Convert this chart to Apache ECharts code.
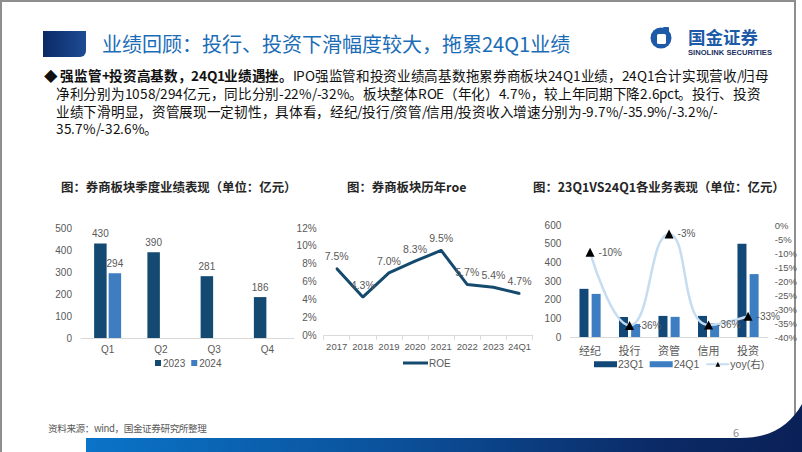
<!DOCTYPE html>
<html>
<head>
<meta charset="utf-8">
<script src="https://cdn.jsdelivr.net/npm/echarts@6/dist/echarts.min.js"></script>
<style>
@font-face{font-family:'CJKT';src:local('Noto Sans CJK SC'),local('Noto Sans CJK SC Regular'),local('NotoSansCJKsc-Regular');ascent-override:92%;descent-override:22%;line-gap-override:0%;font-weight:400;}
@font-face{font-family:'CJKT';src:local('Noto Sans CJK SC Bold'),local('NotoSansCJKsc-Bold');ascent-override:92%;descent-override:22%;line-gap-override:0%;font-weight:700;}
html,body{margin:0;padding:0;background:#fff;}
body{width:802px;height:452px;position:relative;overflow:hidden;font-family:"Noto Sans CJK SC","Noto Sans",sans-serif;}
.abs{position:absolute;white-space:nowrap;}
#frame{position:absolute;left:0;top:0;width:796px;height:460px;border-left:2px solid #8e8e8e;border-top:2px solid #8e8e8e;border-right:2px solid #8e8e8e;box-sizing:border-box;}
#sq{position:absolute;left:43px;top:31px;width:43px;height:26px;background:linear-gradient(90deg,#0b2a66,#1d4c94);border-bottom-right-radius:6px;}
#title{left:102px;top:30px;font-size:20px;line-height:28px;color:#1b6cb6;}
#bullet{left:44px;top:68px;font-size:13.6px;line-height:17.8px;color:#111;letter-spacing:-0.3px;font-family:'CJKT',"Noto Sans CJK SC",sans-serif;}
.ct{font-size:12.4px;font-weight:bold;color:#262626;line-height:16px;top:179px;}
#src{left:48px;top:421px;font-size:9.6px;color:#595959;letter-spacing:-0.4px;}
#pg{left:733px;top:424px;font-size:11px;color:#8c8c8c;}
#chart{position:absolute;left:0;top:0;width:802px;height:452px;}
</style>
</head>
<body>
<div id="frame"></div>
<div id="sq"></div>
<div class="abs" id="title">业绩回顾：投行、投资下滑幅度较大，拖累24Q1业绩</div>
<svg class="abs" style="left:640px;top:20px" width="160" height="45" viewBox="640 20 160 45">
  <circle cx="661" cy="38" r="10.5" fill="#1d5aa7"/>
  <rect x="657" y="34" width="9" height="10" rx="1.5" fill="#fff"/>
  <rect x="663" y="27" width="6" height="6" rx="1" fill="#1d5aa7"/>
  <text x="688" y="43.5" font-family="Noto Sans CJK SC" font-weight="bold" font-size="17.5" fill="#1d5aa7">国金证券</text>
  <text x="688" y="55" font-family="Liberation Sans" font-weight="bold" font-size="7.6" fill="#1a2f62">SINOLINK SECURITIES</text>
</svg>
<div class="abs" id="bullet">
<div>◆ <b>强监管+投资高基数，24Q1业绩遇挫。</b>IPO强监管和投资业绩高基数拖累券商板块24Q1业绩，24Q1合计实现营收/归母</div>
<div style="padding-left:12px">净利分别为1058/294亿元，同比分别-22%/-32%。板块整体ROE（年化）4.7%，较上年同期下降2.6pct。投行、投资</div>
<div style="padding-left:12px">业绩下滑明显，资管展现一定韧性，具体看，经纪/投行/资管/信用/投资收入增速分别为-9.7%/-35.9%/-3.2%/-</div>
<div style="padding-left:12px">35.7%/-32.6%。</div>
</div>
<div class="abs ct" style="left:61px">图：券商板块季度业绩表现（单位：亿元）</div>
<div class="abs ct" style="left:347px">图：券商板块历年roe</div>
<div class="abs ct" style="left:533px">图：23Q1VS24Q1各业务表现（单位：亿元）</div>
<div class="abs" id="src">资料来源：wind，国金证券研究所整理</div>
<div class="abs" id="pg">6</div>
<svg class="abs" style="left:0;top:0" width="802" height="452">
  <defs>
    <linearGradient id="bg" x1="86" y1="0" x2="802" y2="0" gradientUnits="userSpaceOnUse">
      <stop offset="0" stop-color="#0a74c8"/>
      <stop offset="0.45" stop-color="#0b4f98"/>
      <stop offset="0.8" stop-color="#0b2a66"/>
      <stop offset="1" stop-color="#0a2157"/>
    </linearGradient>
  </defs>
  <path d="M86 438 L740 438 C772 438 790 425 802 404 L802 452 L86 452 Z" fill="url(#bg)"/>
</svg>
<div id="chart"></div>
<script>
// ---- data ----
const quarterCats = ['Q1', 'Q2', 'Q3', 'Q4'];
const profit2023 = [430, 390, 281, 186];
const profit2024 = [294, null, null, null];
const profitTicks = [0, 100, 200, 300, 400, 500];

const roeYears = ['2017', '2018', '2019', '2020', '2021', '2022', '2023', '24Q1'];
const roeValues = [7.5, 4.3, 7.0, 8.3, 9.5, 5.7, 5.4, 4.7];
const roeTicks = ['0%', '2%', '4%', '6%', '8%', '10%', '12%'];

const bizCats = ['经纪', '投行', '资管', '信用', '投资'];
const biz23Q1 = [258, 107, 113, 113, 500];
const biz24Q1 = [231, 70, 108, 74, 337];
const bizYoy = [-9.7, -35.9, -3.2, -35.7, -32.6];
const bizLeftTicks = [0, 100, 200, 300, 400, 500, 600];
const bizRightTicks = ['0%', '-5%', '-10%', '-15%', '-20%', '-25%', '-30%', '-35%', '-40%'];

// ---- styles ----
const FF = 'Liberation Sans, Noto Sans CJK SC, sans-serif';
const GRAY = '#595959';
const AXC = '#d9d9d9';
const lab = (extra) => Object.assign({fontSize: 10, color: GRAY, fontFamily: FF}, extra || {});

const chart = echarts.init(document.getElementById('chart'), null, {renderer: 'svg'});
chart.setOption({
  animation: false,
  textStyle: {fontFamily: FF},
  grid: [
    {left: 81, top: 228, width: 213, height: 110},
    {left: 323.6, top: 228, width: 209, height: 107.7},
    {left: 570.3, top: 225, width: 197.5, height: 112}
  ],
  legend: [
    {data: [{name: '2023', icon: 'rect'}, {name: '2024', icon: 'rect'}], left: 150, top: 353,
     itemWidth: 6, itemHeight: 6, itemGap: 6, textStyle: lab({padding: [0, 0, 0, -3]})},
    {data: [{name: 'ROE', icon: 'rect'}], left: 398, top: 353, itemWidth: 25, itemHeight: 3,
     textStyle: lab({padding: [0, 0, 0, -4]})},
    {data: [{name: '23Q1', icon: 'rect'}, {name: '24Q1', icon: 'rect'}, {name: 'yoy(右)'}],
     left: 589, top: 354, itemWidth: 23, itemHeight: 6, itemGap: 6,
     textStyle: lab({fontSize: 10.5, padding: [0, 0, 0, -4]})}
  ],
  xAxis: [
    {gridIndex: 0, type: 'category', data: quarterCats,
     axisLine: {lineStyle: {color: AXC}}, axisTick: {show: false},
     axisLabel: lab({margin: 6, interval: 0})},
    {gridIndex: 1, type: 'category', data: roeYears,
     axisLine: {lineStyle: {color: AXC}}, axisTick: {show: true, length: 4, lineStyle: {color: AXC}},
     axisLabel: lab({margin: 6, interval: 0, fontSize: 9.5})},
    {gridIndex: 2, type: 'category', data: bizCats,
     axisLine: {lineStyle: {color: AXC}}, axisTick: {show: false},
     axisLabel: lab({fontSize: 11, margin: 8, interval: 0})}
  ],
  yAxis: [
    {gridIndex: 0, type: 'value', min: profitTicks[0], max: profitTicks[profitTicks.length - 1], interval: 100,
     axisLine: {show: false}, axisTick: {show: false}, splitLine: {show: false},
     axisLabel: lab({margin: 9})},
    {gridIndex: 1, type: 'value', min: 0, max: 12, interval: 2,
     axisLine: {show: false}, axisTick: {show: false}, splitLine: {show: false},
     axisLabel: lab({margin: 7, formatter: (v) => roeTicks[Math.round(v / 2)]})},
    {gridIndex: 2, type: 'value', min: bizLeftTicks[0], max: bizLeftTicks[bizLeftTicks.length - 1], interval: 100,
     axisLine: {show: false}, axisTick: {show: false}, splitLine: {show: false},
     axisLabel: lab({margin: 9})},
    {gridIndex: 2, type: 'value', position: 'right', min: -40, max: 0, interval: 5,
     axisLine: {show: false}, axisTick: {show: false}, splitLine: {show: false},
     axisLabel: lab({margin: 7, fontSize: 9.5, lineHeight: 11, showMinLabel: true, showMaxLabel: true,
       formatter: (v) => bizRightTicks[Math.round(-v / 5)]})}
  ],
  series: [
    {name: '2023', type: 'bar', xAxisIndex: 0, yAxisIndex: 0, data: profit2023,
     barWidth: 12.5, barGap: '16%', itemStyle: {color: '#144a72'},
     label: {show: true, position: 'top', distance: 5, fontSize: 10, color: GRAY}},
    {name: '2024', type: 'bar', xAxisIndex: 0, yAxisIndex: 0, data: profit2024,
     barWidth: 12.5, itemStyle: {color: '#3d7dc0'},
     label: {show: true, position: 'top', distance: 5, fontSize: 10, color: GRAY}},
    {name: 'ROE', type: 'line', xAxisIndex: 1, yAxisIndex: 1, data: roeValues,
     symbol: 'circle', symbolSize: 2, itemStyle: {color: '#154a6f'},
     lineStyle: {width: 3, color: '#154a6f'},
     label: {show: true, position: 'top', distance: 6, fontSize: 10.5, color: GRAY,
             formatter: (p) => p.value.toFixed(1) + '%'}},
    {name: '23Q1', type: 'bar', xAxisIndex: 2, yAxisIndex: 2, data: biz23Q1,
     barWidth: 9, barGap: '35%', itemStyle: {color: '#124877'}},
    {name: '24Q1', type: 'bar', xAxisIndex: 2, yAxisIndex: 2, data: biz24Q1,
     barWidth: 9, itemStyle: {color: '#3d7ec2'}},
    {name: 'yoy(右)', type: 'line', xAxisIndex: 2, yAxisIndex: 3, data: bizYoy,
     smooth: 0.5, symbol: 'triangle', symbolSize: 9,
     itemStyle: {color: '#000'}, lineStyle: {color: '#c6dcf0', width: 2.5},
     label: {show: true, position: 'right', distance: 4, fontSize: 10, color: GRAY,
             formatter: (p) => Math.round(p.value) + '%'}, z: 5}
  ]
});
</script>
</body>
</html>
